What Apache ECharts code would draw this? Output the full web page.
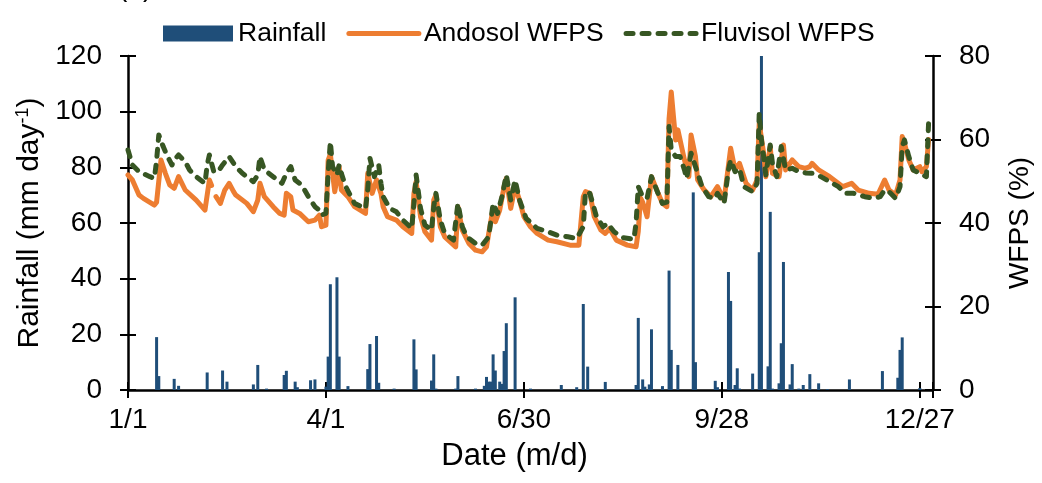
<!DOCTYPE html>
<html><head><meta charset="utf-8">
<script src="https://cdn.jsdelivr.net/npm/echarts@6/dist/echarts.min.js"></script>
<style>html,body{margin:0;padding:0;background:#fff}#c{width:1042px;height:483px}</style>
</head><body><div id="c"></div>
<script>
// x tick labels (every 90 days from 1 Jan)
const tickLabels = ['1/1', '4/1', '6/30', '9/28', '12/27'];
// daily rainfall [day of year (0 = 1/1), mm]
const rainfall = [[13,19],[14,5],[21,4],[23,1.5],[36,6.3],[43,7],[45,3],[57,2],[59,9],[63,0.5],[71,5.4],[72,6.9],[76,3],[77,1],[83,3.5],[85,3.8],[90,1.2],[91,12],[92,38],[95,40.5],[96,12],[100,1.4],[109,7.5],[110,16.5],[113,19.4],[114,2.6],[121,0.5],[130,18.2],[131,7.4],[138,3.4],[139,12.8],[140,0.5],[149,0.5],[150,5],[158,0.5],[162,1.5],[163,4.7],[164,3],[165,3],[166,12.8],[167,7],[169,3],[170,2.2],[171,14],[172,24],[176,33.3],[183,0.5],[197,1.8],[204,1],[207,30.9],[209,8.4],[217,2.9],[231,1.8],[232,25.9],[234,3.8],[235,1.2],[237,2],[238,21.8],[243,1.4],[246,42.9],[247,14.4],[250,9],[257,71],[258,10],[267,3.3],[268,1],[273,42.4],[274,32],[276,1.8],[277,7.8],[278,0.5],[284,5.9],[287,49.5],[288,120],[291,8.5],[292,64],[293,0.5],[296,2.4],[297,16.8],[298,46],[301,2],[302,9.3],[305,0.5],[307,1.8],[310,5.7],[314,2.4],[318,0.3],[328,3.8],[343,6.8],[350,4.4],[351,14.4],[352,18.9],[360,0.7]];
// Andosol WFPS (%) [day, value]
const andosol = [[0,51.5],[2,50.3],[5,46.7],[7,45.9],[12,44.3],[13,45],[15,55.1],[17,51.9],[19,49.1],[21,48.3],[23,51.1],[26,47.9],[31,45.5],[35,43.1],[37,50.3],[38,49],[39,'-'],[40,46.3],[42,44.7],[44,47.9],[46,49.5],[48,47.5],[49,46.7],[54,44.7],[57,42.7],[59,45.5],[60,49.5],[62,46.3],[66,43.9],[69,42.3],[71,41.9],[72,47.1],[74,46.3],[75,43.1],[78,42.3],[82,40.3],[85,40.7],[87,41.9],[88,39.1],[90,39.5],[91,55],[92,56.5],[93,51.9],[94,47.5],[96,53.5],[97,47.9],[100,46.3],[103,43.9],[108,42.3],[109,51.9],[111,47.1],[113,50.3],[115,47.1],[116,43.9],[118,41.5],[122,40.7],[125,39.1],[129,37.5],[130,47.1],[131,49.9],[133,41.5],[135,37.9],[138,35.9],[139,45.5],[140,46.7],[142,39.1],[144,36.7],[149,34.3],[150,43.9],[152,38.3],[155,35.1],[158,33.5],[161,33.1],[163,34.3],[164,37.5],[166,43.5],[167,40.3],[169,43.1],[171,48.7],[172,50.7],[174,43.5],[176,48.7],[178,45.5],[180,41.5],[183,39.1],[186,37.5],[191,35.9],[195,35.5],[201,34.7],[205,34.7],[207,46.3],[208,47.5],[210,47.1],[212,41.5],[215,38.3],[217,37.5],[219,38.7],[222,35.9],[227,34.7],[231,34.3],[232,38],[233,46],[234,45],[236,41.5],[238,51.1],[241,47.1],[243,44.7],[245,43.9],[246,65],[247,71.4],[248,65.5],[249,59.9],[250,62.3],[253,55.1],[255,51.1],[256,61.1],[258,55.9],[259,50.3],[262,47.9],[265,46.3],[268,48.7],[271,45.5],[274,57.9],[276,52.7],[278,54.3],[281,49.5],[284,47.9],[286,50.3],[287,63.9],[289,56.7],[290,51.1],[292,58.3],[293,51.9],[296,51.1],[298,58.7],[299,52.7],[302,55.1],[305,53.5],[308,53.1],[310,53.5],[311,54.3],[314,52.7],[319,51.1],[325,48.7],[329,49.5],[332,47.9],[337,47.1],[341,46.9],[344,50.3],[346,47.9],[349,46.7],[351,50.3],[352,60.7],[353,59.1],[355,55.1],[357,52.7],[360,53.5],[361,52.3],[363,53.5],[364,60]];
// Fluvisol WFPS (%) [day, value]
const fluvisol = [[0,57.5],[2,53.9],[5,52.3],[10,51.1],[12,50.7],[13,55],[14,61.1],[16,58.3],[18,55.9],[20,53.9],[21,55.1],[23,56.3],[26,54.7],[28,52.7],[31,51.1],[35,49.5],[36,53.9],[37,56.3],[39,52.3],[41,52.3],[43,53.9],[46,55.9],[49,53.5],[52,51.9],[57,49.9],[59,51.5],[60,55.9],[62,52.7],[66,51.1],[70,49.5],[72,51.9],[74,53.5],[76,50.3],[79,49.1],[82,46.3],[85,43.9],[87,43.1],[88,41.9],[90,42.3],[91,52],[92,59.5],[93,53.5],[95,51.5],[96,53.9],[97,51.9],[99,48.7],[103,44.7],[108,43.5],[109,48],[110,55.5],[112,51.1],[114,53.9],[115,49.5],[116,46.3],[119,43.5],[122,42.7],[125,40.7],[129,38.7],[130,44.7],[131,51.5],[133,43.5],[135,39.5],[138,38.3],[139,43.9],[140,47.1],[142,40.7],[144,37.5],[148,35.9],[150,44.7],[152,39.1],[154,36.7],[158,35.1],[161,34.7],[164,36.7],[166,44.7],[168,42.3],[170,46.3],[172,51.5],[174,45.5],[176,50.3],[178,45.5],[181,41.1],[186,38.7],[191,37.9],[195,37.1],[200,36.7],[204,36.3],[207,39.1],[208,47.5],[210,47.1],[213,41.5],[216,39.1],[218,39.9],[221,37.9],[225,36.5],[230,36.1],[231,40],[232,48.7],[234,46.3],[236,45.9],[238,51.1],[241,47.1],[243,44.7],[245,45],[246,63.1],[247,57.5],[249,55.9],[251,55.9],[253,52.7],[254,50.7],[256,56.7],[259,51.9],[261,48.7],[264,46.3],[267,45.9],[268,47.1],[271,44.7],[273,52.7],[274,55.1],[276,52.3],[278,53.1],[280,48.7],[284,47.5],[286,49.5],[287,66.3],[288,59.9],[289,55.9],[290,51.5],[292,58.7],[293,54.3],[295,51.1],[297,58.3],[299,52.7],[302,53.1],[305,52.3],[308,52],[311,51.9],[315,51.1],[319,49.9],[323,48.7],[326,47.1],[330,47.1],[335,46.3],[339,45.9],[342,46.3],[344,47.9],[346,47.5],[349,45.9],[351,48.7],[352,58.3],[353,59.9],[355,55.9],[357,52.7],[360,51.9],[363,51.1],[364,64]];

const FONT = 'Liberation Sans, Arial, sans-serif';
const AXLINE = { color: '#000', width: 2.5 };
const ORANGE = '#ED7D31', GREEN = '#375623', BLUE = '#1F4E79';
const andosolStyle = { color: ORANGE, width: 5, join: 'round', cap: 'round' };
const fluvisolStyle = { color: GREEN, width: 5, type: [7, 9], cap: 'round', join: 'round' };
const chart = echarts.init(document.getElementById('c'), null, { renderer: 'canvas' });

function xAx(main) {
  return {
    type: 'value', min: 0, max: 366, interval: 90, position: 'bottom',
    axisLine: { show: main, onZero: false, lineStyle: AXLINE },
    axisTick: { show: true, inside: !main, length: 8, lineStyle: { color: '#000', width: 2 } },
    axisLabel: main ? { show: true, color: '#000', fontFamily: FONT, fontSize: 28, margin: 16,
      formatter: v => (v % 90 === 0 ? tickLabels[v / 90] : '') } : { show: false },
    splitLine: { show: false },
    name: main ? 'Date (m/d)' : '', nameLocation: 'middle', nameGap: 51,
    nameTextStyle: { color: '#000', fontFamily: FONT, fontSize: 31, padding: [0, 32, 0, 0] }
  };
}
function yAx(main, pos, max, name, gap, size, rich) {
  return {
    type: 'value', min: 0, max: max, interval: 20, position: pos,
    axisLine: { show: main, onZero: false, lineStyle: AXLINE },
    axisTick: { show: true, inside: !main, length: 8, lineStyle: { color: '#000', width: 2 } },
    axisLabel: main ? { show: true, color: '#000', fontFamily: FONT, fontSize: 28, margin: 26 } : { show: false },
    splitLine: { show: false },
    name: main ? name : '', nameLocation: 'middle', nameRotate: 90, nameGap: gap,
    nameTextStyle: { color: '#000', fontFamily: FONT, fontSize: size || 28, rich: rich }
  };
}
const supRich = {
  sup: { fontSize: 18, fontFamily: FONT, color: '#000', verticalAlign: 'top', lineHeight: 30, padding: [0, 0, 11, 0] }
};

chart.setOption({
  animation: false,
  backgroundColor: '#fff',
  grid: { left: 128, right: 107, top: 56, bottom: 93, containLabel: false },
  legend: {
    left: 158, top: 15, itemWidth: 70, itemHeight: 16, itemGap: 20,
    textStyle: { color: '#000', fontFamily: FONT, fontSize: 26.5 },
    data: [
      { name: 'Rainfall', icon: 'rect' },
      { name: 'Andosol WFPS', itemStyle: { opacity: 0 }, lineStyle: andosolStyle },
      { name: 'Fluvisol WFPS', itemStyle: { opacity: 0 }, lineStyle: fluvisolStyle }
    ]
  },
  graphic: [{ type: 'text', left: 118, top: -26,
    style: { text: '(a)', fontFamily: FONT, fontSize: 28, fill: '#000' } }],
  xAxis: [xAx(true), xAx(false)],
  yAxis: [
    yAx(true, 'left', 120, 'Rainfall (mm day{sup|-1})', 82, 30, supRich),
    yAx(true, 'right', 80, 'WFPS (%)', 73, 28),
    yAx(false, 'left', 120),
    yAx(false, 'right', 80)
  ],
  series: [
    { name: 'Rainfall', type: 'bar', xAxisIndex: 0, yAxisIndex: 0, data: rainfall,
      barWidth: 3, itemStyle: { color: BLUE } },
    { name: 'Andosol WFPS', type: 'line', xAxisIndex: 0, yAxisIndex: 1, data: andosol,
      symbol: 'none', showSymbol: false, connectNulls: false,
      lineStyle: andosolStyle, itemStyle: { color: ORANGE } },
    { name: 'Fluvisol WFPS', type: 'line', xAxisIndex: 0, yAxisIndex: 1, data: fluvisol,
      symbol: 'none', showSymbol: false,
      lineStyle: fluvisolStyle, itemStyle: { color: GREEN } }
  ]
});
</script></body></html>
